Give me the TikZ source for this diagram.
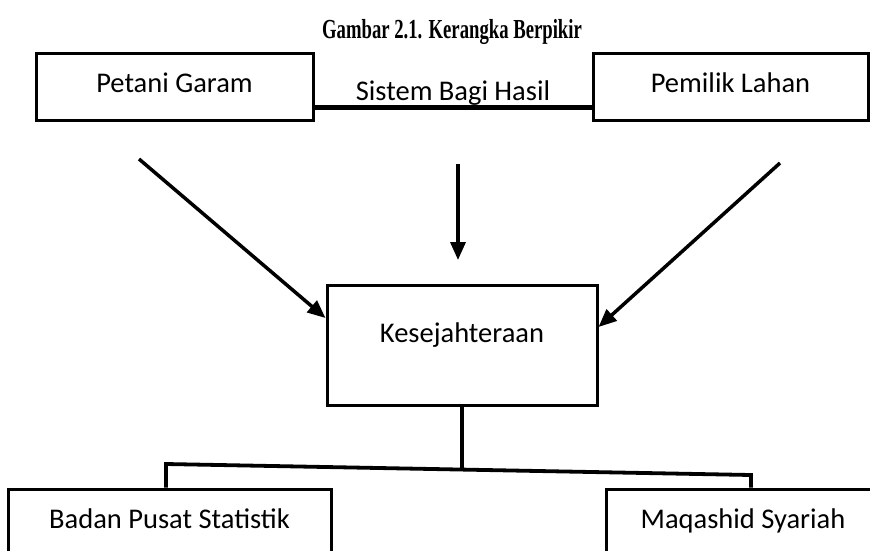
\documentclass[tikz,border=0pt]{standalone}
\usepackage{fontspec}
\setmainfont{Carlito}
\newfontfamily\titlefont{Liberation Serif}
\usetikzlibrary{arrows.meta}
\begin{document}
\begin{tikzpicture}[x=1pt,y=-1pt,
  box/.style={draw, line width=3pt, inner sep=0pt, font=\fontsize{28.5}{32}\selectfont},
  arr/.style={line width=3.5pt, -{Triangle[length=18pt,width=15pt]}},
  conn/.style={line width=3.8pt, line join=miter},
  lbl/.style={font=\fontsize{28.5}{32}\selectfont, inner sep=0pt}
]
\useasboundingbox (0,0) rectangle (870,550);
\clip (0,0) rectangle (870,550);

\node[anchor=base, inner sep=0pt, font=\titlefont\bfseries\fontsize{27.5}{32}\selectfont] (title) at (452,38)
  {\scalebox{0.68}[1]{Gambar 2.1. Kerangka Berpikir}};

\node[box, minimum width=277pt, minimum height=67pt, text height=15pt, text depth=4pt] (petani) at (174.5,86.5) {Petani Garam};
\node[box, minimum width=275pt, minimum height=67pt, text height=15pt, text depth=4pt] (pemilik) at (730.5,86.5) {Pemilik Lahan};
\node[box, minimum width=270pt, minimum height=120pt, text height=4pt, text depth=10pt] (kes) at (462,345) {Kesejahteraan};
\node[box, minimum width=323pt, minimum height=64pt, text height=18pt, text depth=4pt] (badan) at (169.5,521) {Badan Pusat Statistik};
\node[box, minimum width=274pt, minimum height=64pt, text height=18pt, text depth=4pt] (maqashid) at (743,521) {Maqashid Syariah};

\draw[line width=5pt] ([yshift=-20.5pt]petani.east) -- node[lbl, anchor=base, yshift=7pt] (sbh) {Sistem Bagi Hasil} ([yshift=-20.5pt]pemilik.west);

\coordinate (la) at (139,159);
\coordinate (ma) at (458,164);
\coordinate (mt) at (458,260);
\coordinate (ra) at (780,163);
\draw[arr] (la) -- ([yshift=27pt]kes.west);
\draw[arr] (ma) -- (mt);
\draw[arr] (ra) -- ([yshift=18pt]kes.east);

\coordinate (bl) at (166,464);
\coordinate (br) at (751,475);
\coordinate (bj) at (462,469.6);
\draw[line width=3.5pt] (kes.south) -- (bj);
\draw[conn] (badan.north -| bl) -- (bl) -- (br) -- (maqashid.north -| br);
\end{tikzpicture}
\end{document}
